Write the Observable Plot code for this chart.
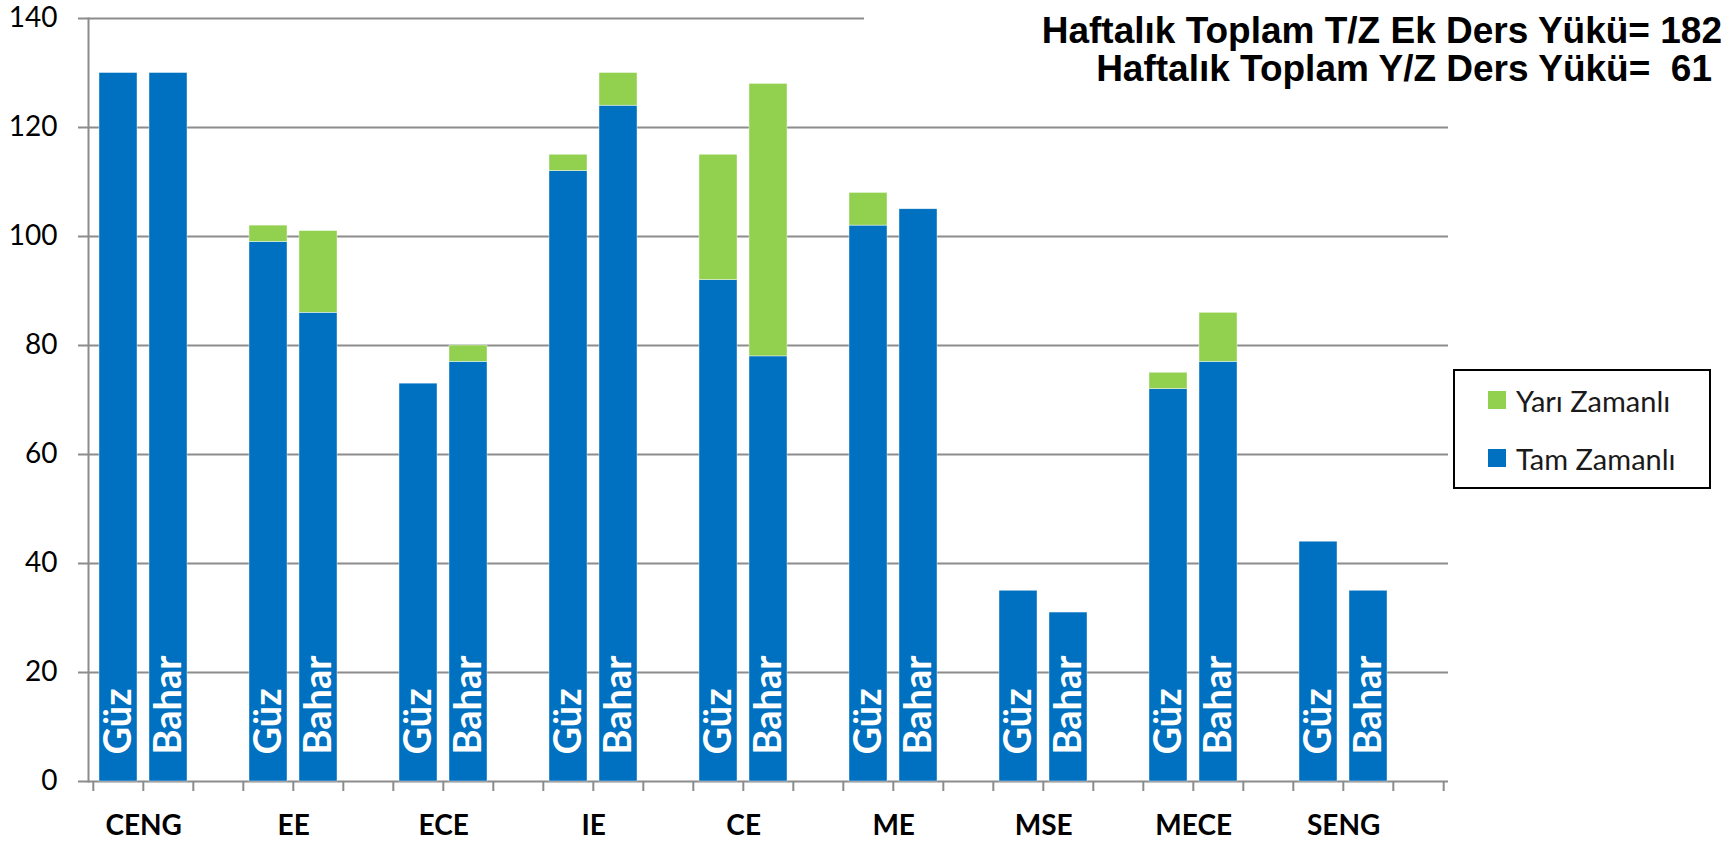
<!DOCTYPE html>
<html>
<head>
<meta charset="utf-8">
<script src="https://cdn.jsdelivr.net/npm/d3@7"></script>
<script src="https://cdn.jsdelivr.net/npm/@observablehq/plot@0.6"></script>
<style>
  html, body { margin: 0; padding: 0; background: #fff; }
  #wrap { position: relative; width: 1721px; height: 841px; overflow: hidden; }
  #wrap svg { position: absolute; left: 0; top: 0; overflow: visible; }
  .tline { position: absolute; font-family: "Liberation Sans", Arial, sans-serif; font-weight: bold;
           font-size: 37px; line-height: 37px; color: #000; white-space: pre; }
  #tbg { position: absolute; left: 864px; top: 0; width: 857px; height: 60px; background: #fff; }
  #legend { position: absolute; left: 1453px; top: 369px; width: 254px; height: 116px;
            border: 2px solid #000; background: #fff; font-family: Lato, "Open Sans", sans-serif;
            font-size: 29px; color: #1a1a1a; }
  .li { position: absolute; left: 33px; display: flex; align-items: center; height: 30px; }
  .sw { width: 18px; height: 18px; margin-right: 10px; }
</style>
</head>
<body>
<div id="wrap"></div>
<script>
// ---- data ----
const groups   = ["CENG", "EE", "ECE", "IE", "CE", "ME", "MSE", "MECE", "SENG"];
const seasons  = ["Güz", "Bahar"];
const tamGuz     = [130, 99, 73, 112, 92, 102, 35, 72, 44];
const yariGuz    = [0,   3,  0,  3,   23, 6,   0,  3,  0];
const tamBahar   = [130, 86, 77, 124, 78, 105, 31, 77, 35];
const yariBahar  = [0,   15, 3,  6,   50, 0,   0,  9,  0];
const series   = ["Tam Zamanlı", "Yarı Zamanlı"];
const colors   = ["#0070C0", "#92D050"];
const yTicks   = [0, 20, 40, 60, 80, 100, 120, 140];
const titleLines = ["Haftalık Toplam T/Z Ek Ders Yükü= 182", "Haftalık Toplam Y/Z Ders Yükü=  61"];

// ---- build tables ----
const slots = groups.flatMap(g => [g + "|Güz", g + "|Bahar", g + "|"]);
const rows = [];
const barLabels = [];
groups.forEach((g, i) => {
  rows.push({slot: g + "|Güz", type: series[0], value: tamGuz[i]});
  rows.push({slot: g + "|Güz", type: series[1], value: yariGuz[i]});
  rows.push({slot: g + "|Bahar", type: series[0], value: tamBahar[i]});
  rows.push({slot: g + "|Bahar", type: series[1], value: yariBahar[i]});
  barLabels.push({slot: g + "|Güz", season: seasons[0]});
  barLabels.push({slot: g + "|Bahar", season: seasons[1]});
});

const W = 1721, H = 841, mL = 88, mR = 273, mT = 18, mB = 60;
const step = (W - mL - mR) / slots.length;
const grid = "#8c8c8c";

const chart = Plot.plot({
  width: W, height: H,
  marginLeft: mL, marginRight: mR, marginTop: mT, marginBottom: mB,
  style: {fontFamily: "Lato, 'Open Sans', sans-serif", background: "transparent", overflow: "visible"},
  x: {type: "band", domain: slots, paddingInner: 0.25, paddingOuter: 0.125, axis: null, label: null},
  y: {domain: [0, 140], axis: null, label: null},
  color: {domain: series, range: colors},
  marks: [
    Plot.ruleY(yTicks, {y: d => d, stroke: grid, strokeWidth: 2, insetLeft: -10}),
    Plot.frame({anchor: "left", stroke: grid, strokeWidth: 2}),
    Plot.axisX({ticks: slots, label: null, tickSize: 10, tickFormat: () => "", dx: -step / 2, stroke: grid, strokeWidth: 2, strokeOpacity: 1}),
    Plot.axisX({ticks: [slots[slots.length - 1]], label: null, tickSize: 10, tickFormat: () => "", dx: step / 2, stroke: grid, strokeWidth: 2, strokeOpacity: 1}),
    Plot.barY(rows, {x: "slot", y: "value", fill: "type", stroke: "#fff", strokeWidth: 0.6, strokeOpacity: 0.7}),
    Plot.text(barLabels, {x: "slot", text: "season", frameAnchor: "bottom", dy: -27, rotate: -90,
      textAnchor: "start", lineAnchor: "middle", fill: "white", fontWeight: "bold", fontSize: 38}),
    Plot.text(groups, {x: d => d + "|Güz", text: d => d, frameAnchor: "bottom", dx: step / 2, dy: 45,
      lineAnchor: "middle", fill: "#000", fontWeight: "bold", fontSize: 28}),
    Plot.text(yTicks, {y: d => d, text: d => String(d), frameAnchor: "left", dx: -31, textAnchor: "end",
      lineAnchor: "middle", fill: "#000", fontSize: 28})
  ]
});

const wrap = document.getElementById("wrap");
wrap.appendChild(chart);

const tbg = document.createElement("div");
tbg.id = "tbg";
wrap.appendChild(tbg);

const rights = [-1, 9], tops = [12, 50];
titleLines.forEach((t, i) => {
  const d = document.createElement("div");
  d.className = "tline";
  d.style.right = rights[i] + "px";
  d.style.top = tops[i] + "px";
  d.textContent = t;
  wrap.appendChild(d);
});

const legend = document.createElement("div");
legend.id = "legend";
const legendOrder = [1, 0];
legendOrder.forEach((k, j) => {
  const item = document.createElement("div");
  item.className = "li";
  item.style.top = (14 + j * 58) + "px";
  const sw = document.createElement("div");
  sw.className = "sw";
  sw.style.background = colors[k];
  const lab = document.createElement("span");
  lab.textContent = series[k];
  item.appendChild(sw);
  item.appendChild(lab);
  legend.appendChild(item);
});
wrap.appendChild(legend);
</script>
</body>
</html>
